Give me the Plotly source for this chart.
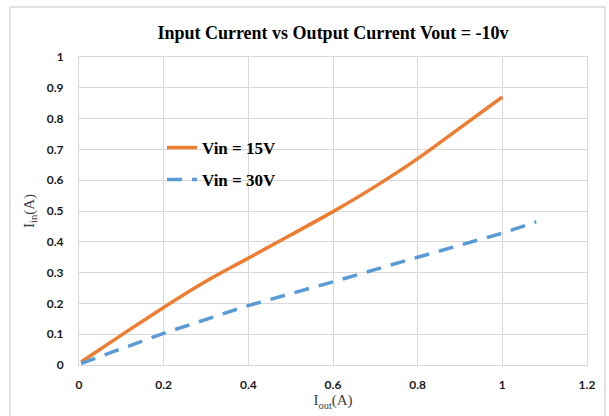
import plotly.graph_objects as go

# Data
iout_15 = [0.005, 0.1, 0.2, 0.3, 0.4, 0.5, 0.6, 0.7, 0.8, 0.9, 1.0]
iin_15 = [0.01, 0.097, 0.187, 0.272, 0.347, 0.422, 0.498, 0.58, 0.67, 0.77, 0.87]
iout_30 = [0.005, 0.2, 0.4, 0.6, 0.8, 1.0, 1.08]
iin_30 = [0.005, 0.103, 0.193, 0.27, 0.35, 0.428, 0.465]

x_ticks = [0, 0.2, 0.4, 0.6, 0.8, 1, 1.2]
x_ticklabels = ["0", "0.2", "0.4", "0.6", "0.8", "1", "1.2"]
y_ticks = [0, 0.1, 0.2, 0.3, 0.4, 0.5, 0.6, 0.7, 0.8, 0.9, 1]
y_ticklabels = ["0", "0.1", "0.2", "0.3", "0.4", "0.5", "0.6", "0.7", "0.8", "0.9", "1"]

W, H = 609, 416
ml, mr, mt, mb = 79, 22, 57, 51
pw, ph = W - ml - mr, H - mt - mb

fig = go.Figure()
fig.add_trace(go.Scatter(x=iout_15, y=iin_15, mode="lines", name="Vin = 15V",
                         line=dict(color="#ED7D31", width=3.5, shape="spline", smoothing=1.0),
                         legend="legend"))
fig.add_trace(go.Scatter(x=iout_30, y=iin_30, mode="lines", name="Vin = 30V",
                         line=dict(color="#5B9BD5", width=3.5, dash="15px,10px"),
                         legend="legend2"))

legend_font = dict(family="Liberation Serif", size=17, color="black", weight="bold")
fig.update_layout(
    width=W, height=H,
    margin=dict(l=ml, r=mr, t=mt, b=mb),
    paper_bgcolor="white", plot_bgcolor="white",
    title=dict(text="<b>Input Current vs Output Current Vout = -10v</b>",
               font=dict(family="Liberation Serif", size=18, color="black"),
               x=(ml + pw / 2) / W, xanchor="center", xref="container",
               y=1 - 33 / H, yanchor="middle", yref="container"),
    showlegend=True,
    legend=dict(x=(162 - ml) / pw, xanchor="left", y=(H - mb - 148) / ph, yanchor="middle",
                bgcolor="rgba(0,0,0,0)", font=legend_font, itemwidth=30),
    legend2=dict(x=(162 - ml) / pw, xanchor="left", y=(H - mb - 180) / ph, yanchor="middle",
                 bgcolor="rgba(0,0,0,0)", font=legend_font, itemwidth=30),
    xaxis=dict(range=[0, 1.2], tickvals=x_ticks, ticktext=x_ticklabels,
               showgrid=True, gridcolor="#D9D9D9", gridwidth=1,
               showline=True, linecolor="#D9D9D9", linewidth=1, mirror=True,
               zeroline=False, ticks="outside", ticklen=9, tickcolor="rgba(0,0,0,0)",
               tickfont=dict(family="Lato", size=12, color="#1a1a1a", weight="bold"),
               title=dict(text="I<sub>out</sub>(A)", standoff=0,
                          font=dict(family="Liberation Serif", size=15, color="#404040"))),
    yaxis=dict(range=[0, 1], tickvals=y_ticks, ticktext=y_ticklabels,
               showgrid=True, gridcolor="#D9D9D9", gridwidth=1,
               showline=True, linecolor="#D9D9D9", linewidth=1, mirror=True,
               zeroline=False, ticks="outside", ticklen=12, tickcolor="rgba(0,0,0,0)",
               tickfont=dict(family="Lato", size=12, color="#1a1a1a", weight="bold"),
               title=dict(text="I<sub>in</sub>(A)", standoff=8,
                          font=dict(family="Liberation Serif", size=15, color="#404040"))),
    shapes=[dict(type="rect", xref="paper", yref="paper",
                 x0=(10 - ml) / pw, x1=(605 - ml) / pw,
                 y0=(H - mb - 425) / ph, y1=(H - mb - 7) / ph,
                 line=dict(color="#D9D9D9", width=1.5), fillcolor="rgba(0,0,0,0)",
                 layer="below")],
)

fig.write_html("out.html")
